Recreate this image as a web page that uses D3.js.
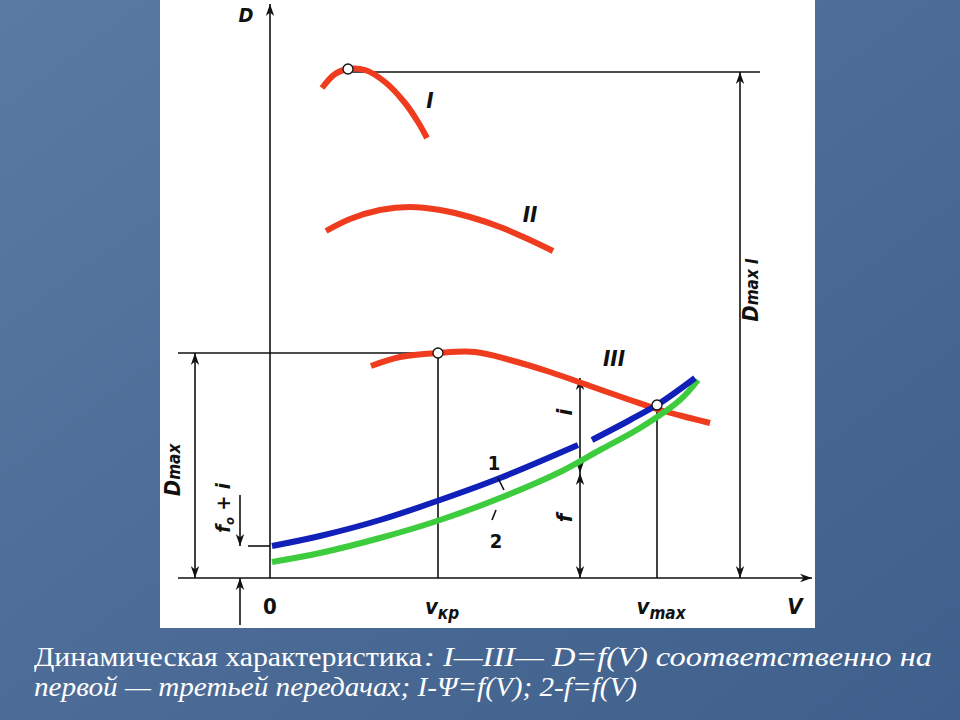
<!DOCTYPE html>
<html><head><meta charset="utf-8">
<script src="https://cdn.jsdelivr.net/npm/d3@7"></script>
<style>body{margin:0;background:#fff}</style></head>
<body><svg id="c" width="960" height="720"></svg>
<script>
// data in chart units: x = speed (0 at origin), y = dynamic factor
const curveI   = [[52,490],[65,504],[78,509],[95,508],[115,496],[135,475],[148,456],[157,440]];
const curveII  = [[56,347],[80,359],[110,368],[140,371],[170,368],[200,361],[230,351],[260,338],[283,327]];
const curveIII = [[101,212],[130,221],[168,225],[205,226],[240,218],[280,206],[320,192],[360,178],[390,168],[420,160],[440,155]];
const curve1a  = [[2,32],[50,42],[110,58],[170,78],[230,100],[308,133]];
const curve1b  = [[322,138],[360,158],[390,175],[425,200]];
const curve2   = [[2,16],[50,25],[110,40],[170,58],[230,80],[290,106],[330,128],[370,150],[410,178],[428,198]];
const markers  = [[78,509],[168,225],[387,173]];
const xTicks   = [{v:0,t:"0"},{v:168,t:"v",s:"кр"},{v:387,t:"v",s:"max"},{v:525,t:"V"}];

const svg = d3.select("#c");
const x = d3.scaleLinear().domain([0,530]).range([270,800]);
const y = d3.scaleLinear().domain([0,578]).range([578,0]);

// slide background
const defs = svg.append("defs");
const g0 = defs.append("linearGradient").attr("id","bg").attr("x1",0).attr("y1",0).attr("x2",1).attr("y2",1);
g0.append("stop").attr("offset",0).attr("stop-color","#5a7aa3");
g0.append("stop").attr("offset",1).attr("stop-color","#3f5f8c");
svg.append("rect").attr("width",960).attr("height",720).attr("fill","url(#bg)");
svg.append("rect").attr("x",160).attr("y",0).attr("width",655).attr("height",628).attr("fill","#fff");

defs.append("marker").attr("id","ar").attr("viewBox","0 0 10 10").attr("refX",10).attr("refY",5)
  .attr("markerWidth",12).attr("markerHeight",12).attr("markerUnits","userSpaceOnUse").attr("orient","auto-start-reverse")
  .append("path").attr("d","M0,1.5L10,5L0,8.5L3,5Z").attr("fill","#111");

function ln(x1,y1,x2,y2,ms,me){
  const l = svg.append("line").attr("x1",x1).attr("y1",y1).attr("x2",x2).attr("y2",y2)
    .attr("stroke","#111").attr("stroke-width",1.6);
  if(ms) l.attr("marker-start","url(#ar)");
  if(me) l.attr("marker-end","url(#ar)");
}
// axes
ln(x(0),y(0),x(0),4,false,true);
ln(178,y(0),812,y(0),false,true);
// guide lines
ln(x(78),y(506),760,y(506));
ln(178,y(225),x(168),y(225));
ln(248,y(32),x(0),y(32));
ln(x(168),y(225),x(168),y(0));
ln(x(387),y(173),x(387),y(0));
// dimension arrows
ln(740,y(506),740,y(0),true,true);
ln(195,y(225),195,y(0),true,true);
ln(x(310),y(200),x(310),y(105),true,true);
ln(x(310),y(105),x(310),y(0),true,true);
ln(240,495,240,y(32),false,true);
ln(240,625,240,y(0),false,true);

const line = d3.line().x(d=>x(d[0])).y(d=>y(d[1])).curve(d3.curveCatmullRom);
[[curveI,"#f03c1e"],[curveII,"#f03c1e"],[curveIII,"#f03c1e"],[curve2,"#3dcc3d"],[curve1a,"#1020b8"],[curve1b,"#1020b8"]]
 .forEach(([d,c])=>svg.append("path").attr("d",line(d)).attr("fill","none").attr("stroke",c).attr("stroke-width",6));
svg.selectAll("circle.m").data(markers).join("circle").attr("cx",d=>x(d[0])).attr("cy",d=>y(d[1]))
  .attr("r",5).attr("fill","#fff").attr("stroke","#111").attr("stroke-width",1.3);
// leader lines for 1,2
ln(498,478,504,490); ln(496,510,492,520);

const F = "'DejaVu Sans Condensed','DejaVu Sans',sans-serif";
function tx(px,py,t,size,rot,italic){
  const e = svg.append("text").attr("x",px).attr("y",py).attr("font-family",F).attr("font-size",size)
    .attr("font-weight","bold").attr("fill","#111").attr("text-anchor","middle").text(t);
  if(italic!==false) e.attr("font-style","italic");
  if(rot) e.attr("transform",`rotate(${rot},${px},${py})`);
  return e;
}
tx(246,22,"D",20);
tx(430,108,"I",22); tx(530,222,"II",22); tx(614,366,"III",22);
tx(494,470,"1",20,0,false); tx(496,548,"2",20,0,false);
tx(572,412,"i",22,-90); tx(572,518,"f",22,-90);
const dm = tx(758,290,"D",22,-90); dm.append("tspan").attr("font-size",17).text("max I");
const dm2 = tx(180,470,"D",22,-90); dm2.append("tspan").attr("font-size",17).text("max");
const fo = tx(230,508,"f",20,-90); fo.append("tspan").attr("font-size",13).attr("dy",4).text("o");
fo.append("tspan").attr("dy",-4).text(" + i");
xTicks.forEach(d=>{
  const e = tx(x(d.v)+(d.s?4:0),614,d.t,22,0,d.v!==0);
  if(d.s) e.append("tspan").attr("font-size",17).attr("dy",5).text(d.s);
});

// caption
const C = "'Liberation Serif','DejaVu Serif',serif";
function cap(px,py,t,len,it){
  const e = svg.append("text").attr("x",px).attr("y",py).attr("font-family",C).attr("font-size",28)
    .attr("fill","#fff").attr("textLength",len).attr("lengthAdjust","spacingAndGlyphs").text(t);
  if(it) e.attr("font-style","italic");
}
cap(34,666,"Динамическая характеристика",388,false);
cap(424,666,": I—III— D=f(V) соответственно на",508,true);
cap(34,696,"первой — третьей передачах; I-Ψ=f(V); 2-f=f(V)",603,true);
</script></body></html>
